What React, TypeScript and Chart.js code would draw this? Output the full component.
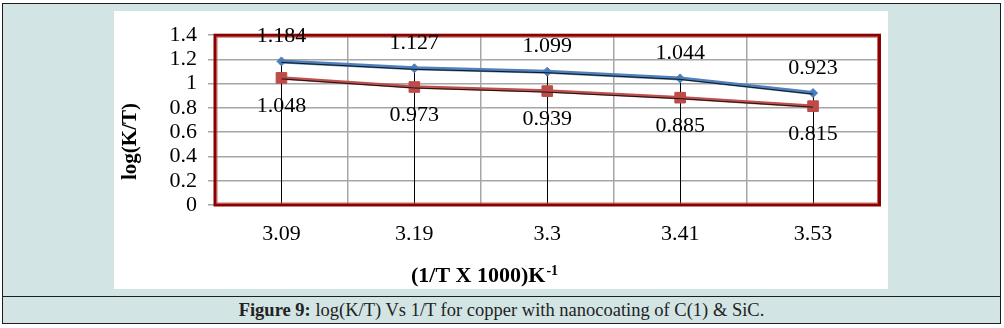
import React, { useEffect, useRef } from "react";
import { Chart, registerables } from "chart.js";

Chart.register(...registerables);

const categories = ["3.09", "3.19", "3.3", "3.41", "3.53"];
const seriesC1 = [1.184, 1.127, 1.099, 1.044, 0.923];
const seriesSiC = [1.048, 0.973, 0.939, 0.885, 0.815];
const yTicks = [0, 0.2, 0.4, 0.6, 0.8, 1, 1.2, 1.4];
const yAxisTitle = "log(K/T)";
const xAxisTitle = "(1/T X 1000)K";
const xAxisTitleSup = "-1";
const captionLabel = "Figure 9:";
const captionText = " log(K/T) Vs 1/T for copper with nanocoating of C(1) & SiC.";

const SERIF = "'Liberation Serif', 'Times New Roman', serif";

const decorPlugin = {
  id: "decor",
  beforeDatasetsDraw(chart: any) {
    const { ctx, chartArea: a } = chart;
    ctx.save();
    const meta = chart.getDatasetMeta(2);
    ctx.strokeStyle = "#000";
    ctx.lineWidth = 1;
    meta.data.forEach((p: any) => {
      const x = Math.round(p.x) + 0.5;
      ctx.beginPath();
      ctx.moveTo(x, p.y);
      ctx.lineTo(x, a.bottom);
      ctx.stroke();
    });
    ctx.strokeStyle = "#c46a6a";
    ctx.lineWidth = 1;
    ctx.strokeRect(a.left + 2, a.top + 2, a.width - 4, a.height - 4);
    ctx.strokeStyle = "#8b0000";
    ctx.lineWidth = 3;
    ctx.strokeRect(a.left, a.top, a.width, a.height);
    ctx.restore();
  },
  beforeDatasetDraw(chart: any, args: any) {
    if (args.index < 2) {
      chart.ctx.save();
      chart.ctx.translate(0, 1);
    }
  },
  afterDatasetDraw(chart: any, args: any) {
    if (args.index < 2) chart.ctx.restore();
  },
  afterDatasetsDraw(chart: any) {
    const { ctx } = chart;
    ctx.save();
    ctx.font = `22px ${SERIF}`;
    ctx.fillStyle = "#000";
    ctx.textAlign = "center";
    ctx.textBaseline = "middle";
    const mBlue = chart.getDatasetMeta(2);
    mBlue.data.forEach((p: any, i: number) => {
      ctx.fillText(seriesC1[i].toFixed(3), p.x, p.y - 25);
    });
    const mRed = chart.getDatasetMeta(3);
    mRed.data.forEach((p: any, i: number) => {
      ctx.fillText(seriesSiC[i].toFixed(3), p.x, p.y + 28.5);
    });
    ctx.restore();
  },
  afterDraw(chart: any) {
    const { ctx } = chart;
    ctx.save();
    ctx.fillStyle = "#000";
    ctx.font = `bold 21px ${SERIF}`;
    ctx.textAlign = "center";
    ctx.textBaseline = "middle";
    ctx.translate(17, 130.5);
    ctx.rotate(-Math.PI / 2);
    ctx.fillText(yAxisTitle, 0, 0);
    ctx.restore();

    ctx.save();
    ctx.fillStyle = "#000";
    ctx.textAlign = "left";
    ctx.textBaseline = "alphabetic";
    ctx.font = `bold 22px ${SERIF}`;
    const w1 = ctx.measureText(xAxisTitle).width;
    ctx.font = `bold 14px ${SERIF}`;
    const w2 = ctx.measureText(xAxisTitleSup).width;
    const x0 = 370 - (w1 + w2) / 2;
    ctx.font = `bold 22px ${SERIF}`;
    ctx.fillText(xAxisTitle, x0, 271);
    ctx.font = `bold 14px ${SERIF}`;
    ctx.fillText(xAxisTitleSup, x0 + w1 + 1, 264);
    ctx.restore();
  },
};

export default function App() {
  const ref = useRef<HTMLCanvasElement | null>(null);

  useEffect(() => {
    if (!ref.current) return;
    const chart = new Chart(ref.current, {
      type: "line",
      data: {
        labels: categories,
        datasets: [
          {
            label: "C(1) outline",
            data: seriesC1,
            borderColor: "#151515",
            borderWidth: 1,
            pointRadius: 0,
            order: 0,
          },
          {
            label: "SiC outline",
            data: seriesSiC,
            borderColor: "#151515",
            borderWidth: 1,
            pointRadius: 0,
            order: 1,
          },
          {
            label: "C(1)",
            data: seriesC1,
            borderColor: "#4f81bd",
            borderWidth: 4,
            pointStyle: "rectRot",
            pointRadius: 4.5,
            pointBackgroundColor: "#4a7ebb",
            pointBorderColor: "#4a7ebb",
            pointBorderWidth: 1,
            order: 2,
          },
          {
            label: "SiC",
            data: seriesSiC,
            borderColor: "#c0504d",
            borderWidth: 3.5,
            pointStyle: "rect",
            pointRadius: 7.5,
            pointBackgroundColor: "#be4b48",
            pointBorderColor: "#be4b48",
            pointBorderWidth: 1,
            order: 3,
          },
        ],
      },
      options: {
        animation: false,
        responsive: false,
        devicePixelRatio: 1,
        layout: { padding: { top: 21, right: 7, left: 0, bottom: 0 } },
        plugins: { legend: { display: false }, tooltip: { enabled: false } },
        scales: {
          x: {
            type: "category",
            offset: true,
            grid: { offset: true, color: "#a6a6a6", lineWidth: 1.5, drawTicks: false },
            border: { display: false },
            ticks: {
              font: { family: SERIF, size: 22 },
              color: "#000",
              padding: 16,
              maxRotation: 0,
              autoSkip: false,
            },
            afterFit: (s: any) => {
              s.height = 84;
            },
          },
          y: {
            min: 0,
            max: 1.4,
            grid: { color: "#a6a6a6", lineWidth: 1.5, tickLength: 7, drawTicks: true },
            border: { display: false },
            ticks: {
              font: { family: SERIF, size: 22 },
              color: "#000",
              padding: 11,
              autoSkip: false,
              callback: (v: any) => String(v),
            },
            afterBuildTicks: (s: any) => {
              s.ticks = yTicks.map((v) => ({ value: v }));
            },
            afterFit: (s: any) => {
              s.width = 101;
            },
          },
        },
      },
      plugins: [decorPlugin],
    });
    return () => chart.destroy();
  }, []);

  return (
    <div
      style={{
        position: "absolute",
        left: 0,
        top: 0,
        width: 1004,
        height: 328,
        background: "#fff",
        overflow: "hidden",
      }}
    >
      <div
        style={{
          position: "absolute",
          left: 2,
          top: 3,
          width: 999,
          height: 321,
          boxSizing: "border-box",
          border: "1.5px solid #1e1e1e",
          background: "#d2e5e4",
        }}
      />
      <canvas
        ref={ref}
        width={774}
        height={278}
        style={{
          position: "absolute",
          left: 114,
          top: 11,
          width: 774,
          height: 278,
          background: "#fff",
          display: "block",
        }}
      />
      <div
        style={{
          position: "absolute",
          left: 3,
          top: 295.5,
          width: 997,
          height: 1.5,
          background: "#1e1e1e",
        }}
      />
      <div
        style={{
          position: "absolute",
          left: 3,
          top: 297,
          width: 997,
          height: 26,
          lineHeight: "26px",
          textAlign: "center",
          fontFamily: SERIF,
          fontSize: 18.5,
          color: "#222",
          whiteSpace: "nowrap",
        }}
      >
        <b>{captionLabel}</b>
        {captionText}
      </div>
    </div>
  );
}
